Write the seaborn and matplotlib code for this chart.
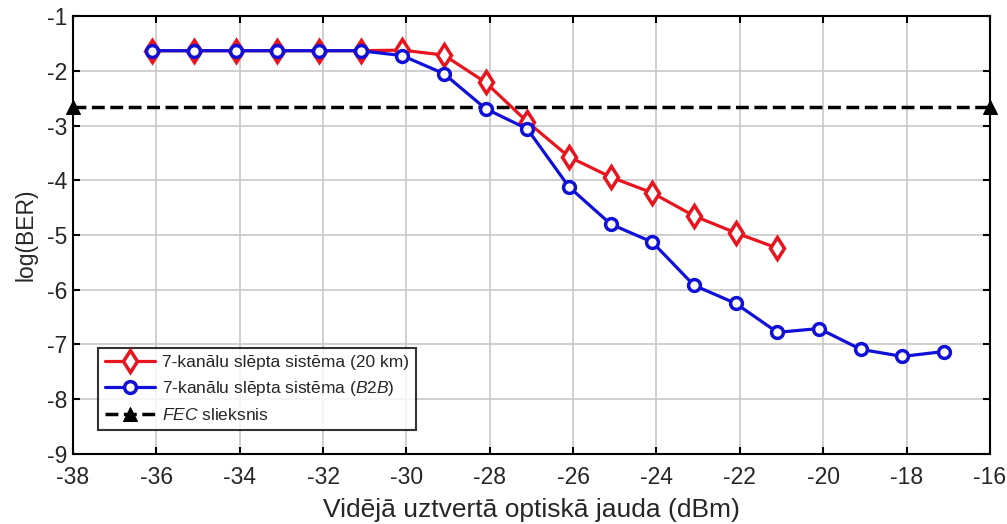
import matplotlib
matplotlib.use('Agg')
import matplotlib.pyplot as plt
import pandas as pd
import seaborn as sns

# Datos
x_20km = [-36.1, -35.1, -34.1, -33.1, -32.1, -31.1, -30.1, -29.1, -28.1, -27.1,
          -26.1, -25.1, -24.1, -23.1, -22.1, -21.1]
ber_20km = [-1.63, -1.63, -1.63, -1.63, -1.63, -1.63, -1.62, -1.71, -2.21, -2.93,
            -3.57, -3.94, -4.23, -4.65, -4.96, -5.24]

x_b2b = [-36.1, -35.1, -34.1, -33.1, -32.1, -31.1, -30.1, -29.1, -28.1, -27.1,
         -26.1, -25.1, -24.1, -23.1, -22.1, -21.1, -20.1, -19.1, -18.1, -17.1]
ber_b2b = [-1.63, -1.63, -1.63, -1.63, -1.63, -1.63, -1.72, -2.05, -2.69, -3.06,
           -4.12, -4.80, -5.13, -5.92, -6.25, -6.78, -6.71, -7.09, -7.22, -7.13]

x_fec = [-38, -16]
ber_fec = [-2.66, -2.66]

df_20 = pd.DataFrame({'x': x_20km, 'y': ber_20km})
df_b2b = pd.DataFrame({'x': x_b2b, 'y': ber_b2b})
df_fec = pd.DataFrame({'x': x_fec, 'y': ber_fec})

sns.set_style('whitegrid')
plt.rcParams['font.family'] = ['Liberation Sans', 'DejaVu Sans']
plt.rcParams['axes.unicode_minus'] = False
plt.rcParams['mathtext.fontset'] = 'custom'
plt.rcParams['mathtext.rm'] = 'Liberation Sans'
plt.rcParams['mathtext.it'] = 'Liberation Sans:italic'

fig, ax = plt.subplots(figsize=(10.07, 5.24), dpi=100)
fig.subplots_adjust(left=0.0725, right=0.983, top=0.969, bottom=0.134)

sns.lineplot(data=df_fec, x='x', y='y', ax=ax, color='black', linestyle='--',
             linewidth=2.5, marker='^', markersize=10, markerfacecolor='black',
             markeredgecolor='black', label='$\\it{FEC}$ slieksnis', zorder=2,
             clip_on=False)
sns.lineplot(data=df_20, x='x', y='y', ax=ax, color='#e8141e', linewidth=2.3,
             marker='d', markersize=11.5, markerfacecolor='white',
             markeredgewidth=2.5, markeredgecolor='#e8141e',
             label='7-kanālu slēpta sistēma (20 km)', zorder=3)
sns.lineplot(data=df_b2b, x='x', y='y', ax=ax, color='#1010d8', linewidth=2.3,
             marker='o', markersize=8.5, markerfacecolor='white',
             markeredgewidth=2.5, markeredgecolor='#1010d8',
             label='7-kanālu slēpta sistēma ($\\it{B2B}$)', zorder=4)

ax.set_xlim(-38, -16)
ax.set_ylim(-9, -1)
ax.set_xticks(range(-38, -15, 2))
ax.set_yticks(range(-9, 0))
ax.tick_params(labelsize=16.5, direction='in', length=5, width=1.5,
               top=True, right=True, left=True, bottom=True,
               color='black')
ax.tick_params(axis='x', pad=9)
ax.tick_params(axis='y', pad=4)
ax.grid(True, color='#c8c8c8', linewidth=1.2)
for s in ax.spines.values():
    s.set_color('black')
    s.set_linewidth(1.5)

ax.set_xlabel('Vidējā uztvertā optiskā jauda (dBm)', fontsize=19, labelpad=6)
ax.set_ylabel('log(BER)', fontsize=16.5, labelpad=7)

# Orden de la leyenda como en el original
h, l = ax.get_legend_handles_labels()
leg = ax.legend([h[1], h[2], h[0]], [l[1], l[2], l[0]], loc='lower left',
                bbox_to_anchor=(0.018, 0.035), fontsize=12.5, frameon=True,
                fancybox=False, edgecolor='black', handlelength=2.9,
                borderpad=0.4, labelspacing=0.5, handletextpad=0.4)
leg.get_frame().set_linewidth(1.5)

fig.savefig('out.png', dpi=100)
